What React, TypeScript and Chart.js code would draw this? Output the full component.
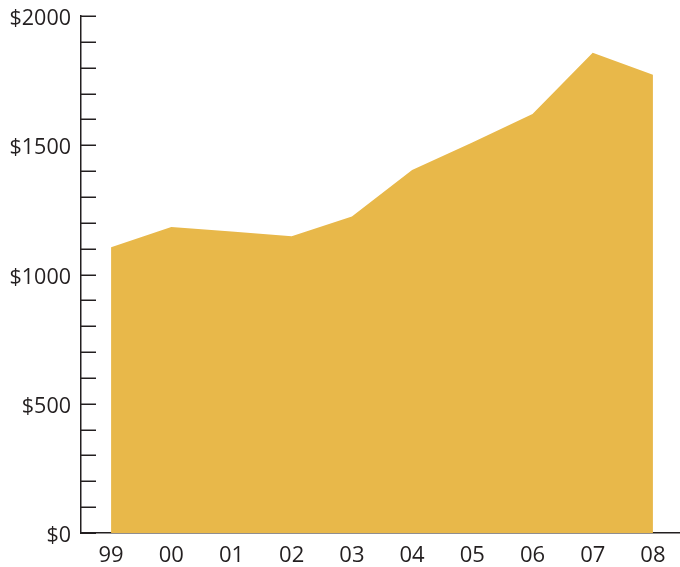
import { useEffect, useRef } from "react";
import { Chart, registerables } from "chart.js";

Chart.register(...registerables);

// Year labels along the bottom axis
const years = ["99", "00", "01", "02", "03", "04", "05", "06", "07", "08"];
// Yearly amount in dollars
const amounts = [1105, 1184, 1166, 1148, 1224, 1404, 1511, 1621, 1858, 1773];
// Y axis range, minor tick step and labelled tick step
const yMin = 0;
const yMax = 2000;
const yTickStep = 100;
const yLabelStep = 500;

const INK = "#231F20";
const FILL = "#E8B84A";
const FONT = "'Open Sans', sans-serif";

// Draws short tick marks pointing into the plot from the left axis
const innerTicks = {
  id: "innerTicks",
  afterDraw(chart: any) {
    const yScale = chart.scales.y;
    const ctx = chart.ctx;
    const x0 = chart.chartArea.left;
    ctx.save();
    ctx.strokeStyle = INK;
    ctx.lineWidth = 1.5;
    for (const t of yScale.ticks) {
      const py = Math.round(yScale.getPixelForValue(t.value)) + 0.25;
      ctx.beginPath();
      ctx.moveTo(x0, py);
      ctx.lineTo(x0 + 15, py);
      ctx.stroke();
    }
    ctx.restore();
  },
};

export default function App() {
  const canvasRef = useRef<HTMLCanvasElement | null>(null);

  useEffect(() => {
    document.body.style.margin = "0";
    const canvas = canvasRef.current;
    if (!canvas) return;
    const chart = new Chart(canvas, {
      type: "line",
      data: {
        datasets: [
          {
            data: amounts.map((v, i) => ({ x: i, y: v })),
            fill: "origin",
            backgroundColor: FILL,
            borderWidth: 0,
            pointRadius: 0,
            tension: 0,
          },
        ],
      },
      options: {
        animation: false,
        responsive: true,
        maintainAspectRatio: false,
        layout: { padding: { top: 16, right: 0, bottom: 0, left: 0 } },
        plugins: { legend: { display: false }, tooltip: { enabled: false } },
        scales: {
          x: {
            type: "linear",
            min: -0.5,
            max: 9.45,
            afterBuildTicks: (scale: any) => {
              scale.ticks = years.map((_, i) => ({ value: i }));
            },
            afterFit: (scale: any) => {
              scale.height = 34;
              scale.paddingLeft = 0;
              scale.paddingRight = 0;
            },
            grid: { display: false, drawTicks: false },
            border: { display: true, color: INK, width: 1.5 },
            ticks: {
              autoSkip: false,
              maxRotation: 0,
              padding: 10,
              color: INK,
              font: { family: FONT, size: 22 },
              callback: (v: any) => years[v as number] ?? "",
            },
          },
          y: {
            min: yMin,
            max: yMax,
            afterFit: (scale: any) => {
              scale.width = 81;
              scale.paddingTop = 0;
              scale.paddingBottom = 0;
            },
            grid: { display: false, drawTicks: false },
            border: { display: true, color: INK, width: 1.5 },
            ticks: {
              stepSize: yTickStep,
              autoSkip: false,
              padding: 10,
              labelOffset: 3,
              color: INK,
              font: { family: FONT, size: 21.5 },
              callback: (v: any) => ((v as number) % yLabelStep === 0 ? "$" + v : ""),
            },
          },
        },
      },
      plugins: [innerTicks],
    });
    return () => chart.destroy();
  }, []);

  return (
    <div style={{ width: 680, height: 567, position: "relative" }}>
      <canvas ref={canvasRef} />
    </div>
  );
}
